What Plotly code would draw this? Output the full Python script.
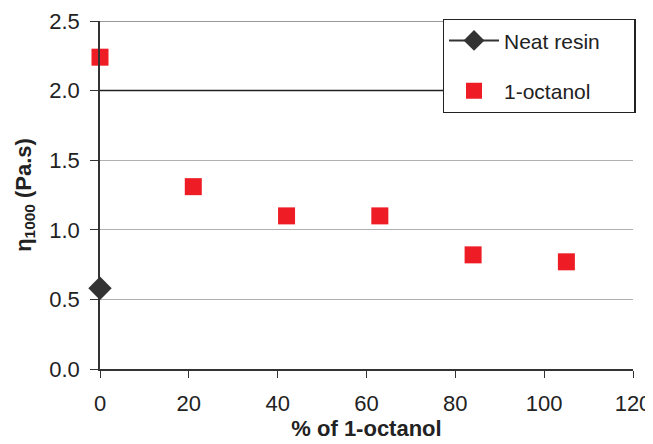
import plotly.graph_objects as go

neat_x = [0]
neat_y = [0.58]
oct_x = [0, 21, 42, 63, 84, 105]
oct_y = [2.24, 1.31, 1.10, 1.10, 0.82, 0.77]
x_ticks = [0, 20, 40, 60, 80, 100, 120]
y_ticks = [0.0, 0.5, 1.0, 1.5, 2.0, 2.5]
pad = "\u00a0" * 5

fig = go.Figure()
fig.add_trace(go.Scatter(x=neat_x, y=neat_y, mode="lines+markers", name="Neat resin" + pad,
                         legendgroup="a",
                         marker=dict(symbol="diamond", size=18, color="#333333"),
                         line=dict(color="#333333", width=2), cliponaxis=False))
fig.add_trace(go.Scatter(x=oct_x, y=oct_y, mode="markers", name="1-octanol",
                         legendgroup="b",
                         marker=dict(symbol="square", size=17, color="#ee1c24"),
                         cliponaxis=False))

fig.add_shape(type="line", xref="paper", x0=0, x1=1, yref="y", y0=2.0, y1=2.0,
              line=dict(color="#222222", width=1.5), layer="above")
fig.add_shape(type="line", xref="paper", x0=0, x1=1, yref="y", y0=2.5, y1=2.5,
              line=dict(color="#333333", width=1.2), layer="above")

fig.update_layout(
    width=645, height=436,
    margin=dict(l=92, r=20, t=12, b=75),
    plot_bgcolor="white", paper_bgcolor="white",
    font=dict(family="Liberation Sans, Arial, sans-serif", size=22, color="#222222"),
    showlegend=True,
    legend=dict(x=0.643, y=1.003, xanchor="left", yanchor="top",
                bordercolor="#222222", borderwidth=1.3, bgcolor="white",
                font=dict(size=21), itemwidth=50, tracegroupgap=20),
    xaxis=dict(range=[0, 120], tickvals=x_ticks, ticks="outside", ticklen=7,
               tickcolor="#333333", showline=True, linecolor="#333333", linewidth=1.5,
               showgrid=False, zeroline=False, automargin=False, ticklabelstandoff=7,
               title=dict(text="<b>% of 1-octanol</b>", font=dict(size=22), standoff=3)),
    yaxis=dict(range=[0, 2.5], tickvals=y_ticks, tickformat=".1f", ticks="outside",
               ticklen=8, tickcolor="#333333", showline=True, linecolor="#333333",
               linewidth=1.5, showgrid=True, gridcolor="#b0b0b0", gridwidth=1,
               zeroline=False, automargin=False, ticklabelstandoff=6,
               title=dict(text="<b>η<sub>1000</sub> (Pa.s)</b>", font=dict(size=22), standoff=12)),
)
fig.write_html("out.html")
